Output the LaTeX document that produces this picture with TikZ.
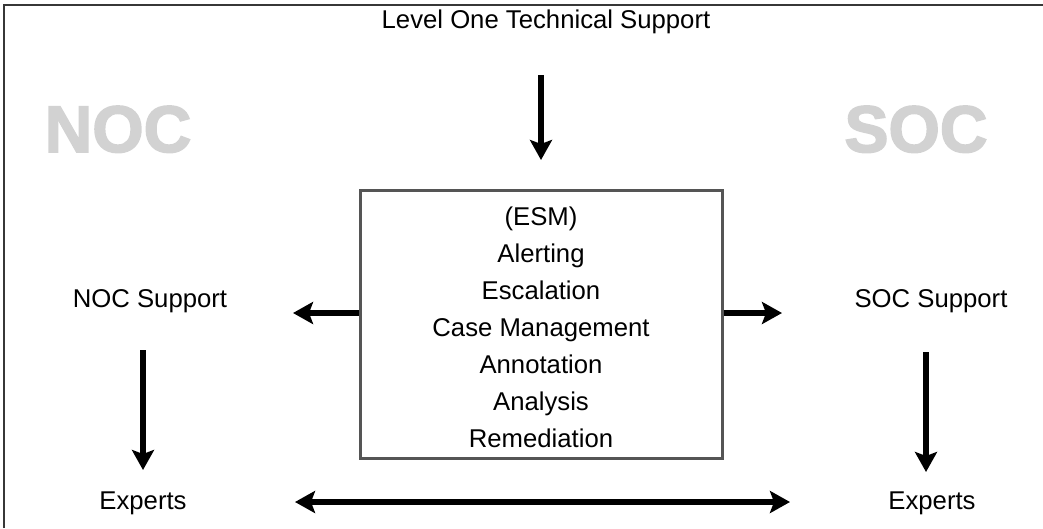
\documentclass[tikz,border=0pt]{standalone}
\usepackage{fontspec}
\setmainfont{Liberation Sans}
\newfontfamily\heavyfont[FakeBold=2.5]{Liberation Sans Bold}
\usetikzlibrary{arrows.meta}

\definecolor{framegray}{RGB}{55,55,55}
\definecolor{boxgray}{RGB}{85,85,85}
\definecolor{watermark}{RGB}{210,210,210}

\tikzset{
  label/.style={font=\fontsize{25.7}{30}\selectfont, inner sep=0pt, anchor=base},
  bigarrow/.style={line width=6pt, -{Stealth[length=20pt, width=22pt, inset=4pt]}},
  twoarrow/.style={line width=6pt, {Stealth[length=20pt, width=22pt, inset=4pt]}-{Stealth[length=20pt, width=22pt, inset=4pt]}},
  center/.style={font=\heavyfont\fontsize{66}{70}\selectfont, text=watermark, inner sep=0pt, anchor=base}
}

\begin{document}
\begin{tikzpicture}[x=1pt, y=-1pt]
		\useasboundingbox (0,0) rectangle (1043,528);
		\draw[framegray, line width=2pt] (4,528) -- (4,5) -- (1043,5);

		% watermarks
		\node[center] (noc) at (118,152) {NOC};
		\node[center] (soc) at (916,152) {SOC};

		% texts
		\node[label] (title) at (546,28) {Level One Technical Support};
		\node[label] (nocsup) at (150,307) {NOC Support};
		\node[label] (socsup) at (931,307) {SOC Support};
		\node[label] (nocexp) at (143,509) {Experts};
		\node[label] (socexp) at (932,509) {Experts};

		% ESM box
		\node[draw=boxgray, line width=3pt, minimum width=362pt, minimum height=268pt] (esm) at (541,324) {};
		\foreach \txt [count=\i from 0] in {(ESM), Alerting, Escalation, Case Management, Annotation, Analysis, Remediation}
			\node[label] (esm\i) at (541,225+37*\i) {\txt};

		% arrow ends
		\coordinate (topin) at (541,75);
		\coordinate (nocin) at (293,313);
		\coordinate (socin) at (782,313);
		\coordinate (nocdn) at (143,350);
		\coordinate (socdn) at (926,352);
		\coordinate (nocend) at (143,470);
		\coordinate (socend) at (926,472);
		\coordinate (expl) at (295,502);
		\coordinate (expr) at (790,502);

		\draw[bigarrow] (topin) -- (esm.north |- 0,160);
		\draw[bigarrow] (esm.west |- nocin) -- (nocin);
		\draw[bigarrow] (esm.east |- socin) -- (socin);
		\draw[bigarrow] (nocdn) -- (nocend);
		\draw[bigarrow] (socdn) -- (socend);
		\draw[twoarrow] (expl) -- (expr);

	\end{tikzpicture}
\end{document}
